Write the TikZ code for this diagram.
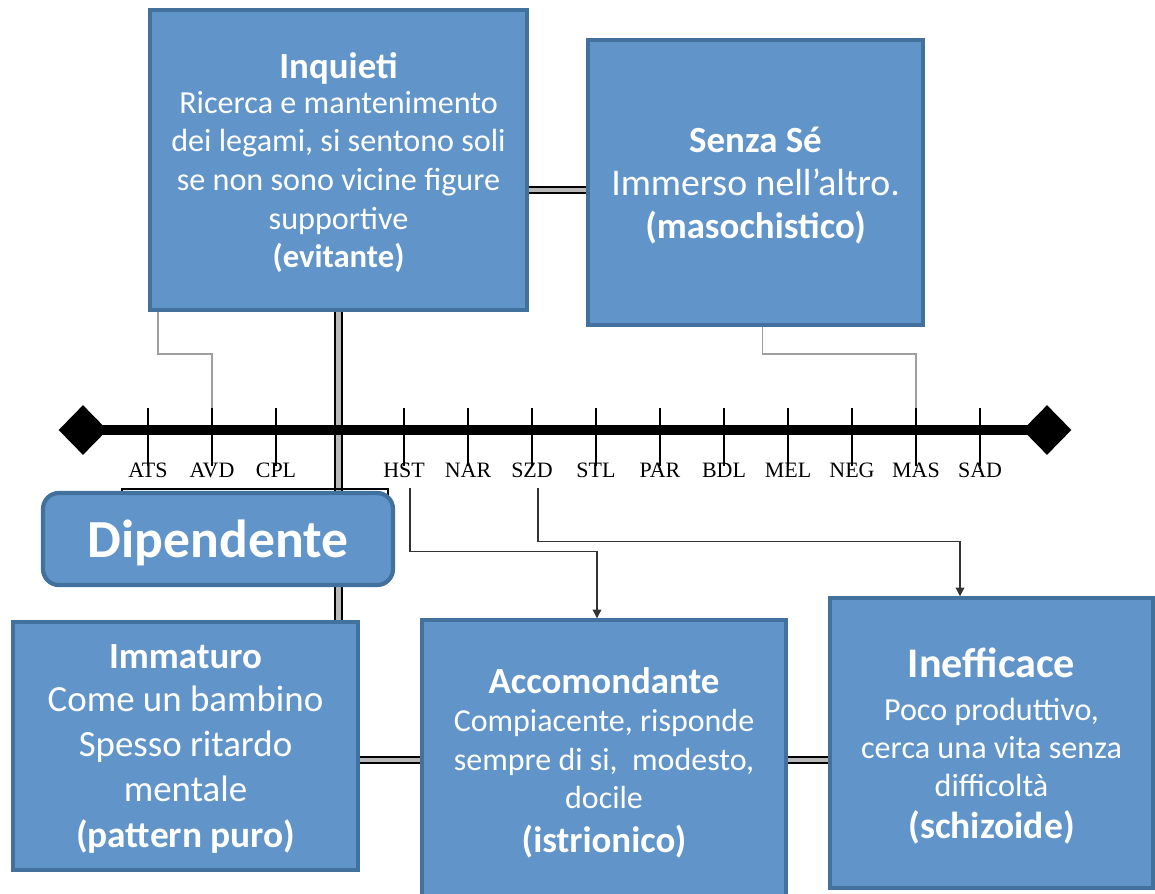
\documentclass[tikz,border=0pt]{standalone}
\usepackage{fontspec}
\setmainfont{Carlito}
\newfontfamily\axisfont{Liberation Serif}
\usetikzlibrary{arrows.meta,calc,positioning,shapes.geometric}

\definecolor{boxfill}{RGB}{97,149,201}
\definecolor{boxline}{RGB}{66,113,158}

\newcommand{\ttl}[2]{{\fontsize{#1}{22}\selectfont\bfseries #2}}

\begin{document}
\begin{tikzpicture}[
    x=0.02cm, y=-0.02cm,
    box/.style={
        rectangle,
        draw=boxline,
        fill=boxfill,
        line width=2pt,
        align=center,
        text=white,
        text depth=0pt,
        inner sep=4pt
    },
    badge/.style={box, rounded corners=9pt, line width=2.4pt},
    ends/.style={diamond, fill=black, inner sep=0pt, minimum width=0.98cm, minimum height=1cm},
    axis/.style={line width=5.5pt},
    tick/.style={line width=0.7pt},
    axlabel/.style={font=\axisfont\fontsize{12.5}{13}\selectfont, inner sep=0pt},
    link/.style={draw=gray!75, line width=0.9pt},
    flow/.style={draw=black!80, line width=0.7pt, -{Triangle[length=5pt,width=5pt]}},
    dbl/.style={draw=black, line width=1pt, double=gray!55, double distance=2.6pt}
]
    \useasboundingbox (0,0) rectangle (1155,893);

    % --- UPPER BOXES ---
    \node[box, minimum width=7.54cm, minimum height=6cm, font=\fontsize{18.3}{22}\selectfont] (inquieti) at (338.5,160)
        {\ttl{21}{Inquieti}\\[-2pt]Ricerca e mantenimento\\dei legami, si sentono soli\\se non sono vicine figure\\supportive\\\ttl{18.6}{(evitante)}};
    \node[box, minimum width=6.7cm, minimum height=5.7cm, font=\fontsize{21.5}{24.5}\selectfont] (senza) at (755.5,182.5)
        {\ttl{21}{Senza Sé}\\Immerso nell’altro.\\\ttl{21}{(masochistico)}};

    % --- LOWER BOXES ---
    \node[box, minimum width=6.9cm, minimum height=4.96cm, font=\fontsize{21}{25.6}\selectfont] (immaturo) at (185.5,746)
        {\ttl{21}{Immaturo}\\[-1pt]Come un bambino\\Spesso ritardo\\mentale\\[1pt]\ttl{21.3}{(pattern puro)}};
    \node[box, minimum width=7.28cm, minimum height=5.6cm, font=\fontsize{18.2}{22}\selectfont] (accom) at (604,760)
        {\ttl{21}{Accomondante}\\Compiacente, risponde\\sempre di si,\ \ modesto,\\docile\\[3pt]\ttl{21}{(istrionico)}};
    \node[box, minimum width=6.46cm, minimum height=5.8cm, font=\fontsize{18.3}{21.6}\selectfont] (inef) at (991.5,743)
        {\ttl{24}{Inefficace}\\[3pt]Poco produttivo,\\cerca una vita senza\\difficoltà\\[2pt]\ttl{21.4}{(schizoide)}};

    % --- DOUBLE CONNECTIONS ---
    \draw[dbl] (inquieti.south) -- (inquieti.south |- immaturo.north);
    \draw[dbl] ([yshift=-0.15cm]inquieti.east |- senza.west) -- ([yshift=-0.15cm]senza.west);
    \draw[dbl] (immaturo.east |- accom.west) -- (accom.west);
    \draw[dbl] (accom.east) -- (inef.west |- accom.east);

    % --- AXIS ---
    \node[ends] (lend) at (83,430) {};
    \node[ends] (rend) at (1047,430) {};
    \draw[axis] (lend.center) -- (rend.center);
    \coordinate (ticktop) at (0,408);

    \node[axlabel] (ats) at (148,470) {ATS};
    \node[axlabel] (avd) at (212,470) {AVD};
    \node[axlabel] (cpl) at (276,470) {CPL};
    \node[axlabel] (hst) at (404,470) {HST};
    \node[axlabel] (nar) at (468,470) {NAR};
    \node[axlabel] (szd) at (532,470) {SZD};
    \node[axlabel] (stl) at (596,470) {STL};
    \node[axlabel] (par) at (660,470) {PAR};
    \node[axlabel] (bdl) at (724,470) {BDL};
    \node[axlabel] (mel) at (788,470) {MEL};
    \node[axlabel] (neg) at (852,470) {NEG};
    \node[axlabel] (mas) at (916,470) {MAS};
    \node[axlabel] (sad) at (980,470) {SAD};

    \foreach \t in {ats,avd,cpl,hst,nar,szd,stl,par,bdl,mel,neg,mas,sad}
        \draw[tick] (\t.north |- ticktop) -- ($(\t.north)+(0,4)$);

    % --- DIPENDENTE ---
    \draw[line width=0.6pt] (122,489) rectangle (388,570);
    \node[badge, minimum width=7cm, minimum height=1.84cm, font=\fontsize{30.5}{34}\selectfont\bfseries] (dip) at (218,539) {Dipendente};

    % --- THIN CONNECTIONS ---
    \draw[link] ([xshift=0.2cm]inquieti.south west) -- ++(0,42) -| (avd |- ticktop);
    \draw[link] ([xshift=0.14cm]senza.south) -- ++(0,27) -| (mas |- ticktop);
    \draw[flow] ([xshift=0.12cm,yshift=-0.2cm]hst.south) -- ++(0,64) -| ([xshift=-0.14cm]accom.north);
    \draw[flow] ([xshift=0.12cm,yshift=-0.2cm]szd.south) -- ++(0,54) -| ([xshift=-0.63cm]inef.north);

\end{tikzpicture}
\end{document}
